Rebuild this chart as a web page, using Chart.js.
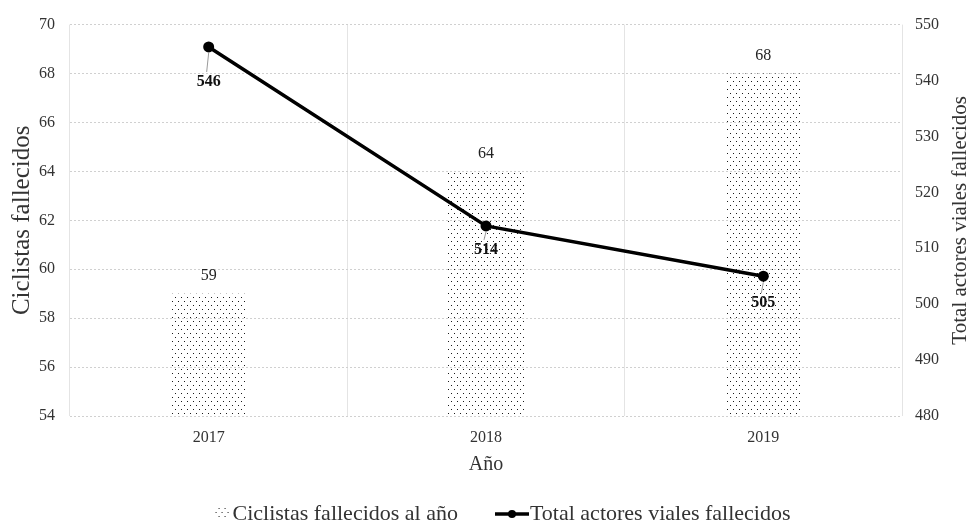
<!DOCTYPE html>
<html>
<head>
<meta charset="utf-8">
<script src="https://cdn.jsdelivr.net/npm/chart.js@4/dist/chart.umd.min.js"></script>
<style>
  html, body { margin: 0; padding: 0; background: #fff; }
  #wrap { width: 971px; height: 525px; }
</style>
</head>
<body>
<div id="wrap"><canvas id="fallecidosChart"></canvas></div>
<script>
const years = ['2017', '2018', '2019'];
const ciclistas = [59, 64, 68];
const totalActores = [546, 514, 505];
const leftTicks = [54, 56, 58, 60, 62, 64, 66, 68, 70];
const rightTicks = [480, 490, 500, 510, 520, 530, 540, 550];

const serif = "'Liberation Serif', 'Times New Roman', serif";
const textColor = '#333';

// dotted fill used for the bars and their legend swatch
function dotTile() {
    const c = document.createElement('canvas');
    c.width = 6;
    c.height = 8;
    const g = c.getContext('2d');
    g.fillStyle = '#1a1a1a';
    g.fillRect(1, 1, 1, 1);
    g.fillRect(4, 5, 1, 1);
    return c;
}
const tile = dotTile();
const dotPattern = document.createElement('canvas').getContext('2d').createPattern(tile, 'repeat');

// legend icons: the canvas is centred on the legend box and its right
// edge lands on the label text, so the drawing sits at the right side
const boxW = 41;
const legendFont = 22;
function iconCanvas() {
    const c = document.createElement('canvas');
    c.width = boxW + legendFont;
    c.height = 14;
    return c;
}
function barIcon() {
    const c = iconCanvas();
    const g = c.getContext('2d');
    g.fillStyle = g.createPattern(tile, 'repeat');
    g.fillRect(c.width - 17, 1, 15, 12);
    return c;
}
function lineIcon() {
    const c = iconCanvas();
    const g = c.getContext('2d');
    g.strokeStyle = '#000';
    g.lineWidth = 3.5;
    g.beginPath();
    g.moveTo(c.width - 35, 7);
    g.lineTo(c.width - 1, 7);
    g.stroke();
    g.fillStyle = '#000';
    g.beginPath();
    g.arc(c.width - 18, 7, 4, 0, Math.PI * 2);
    g.fill();
    return c;
}

const lineLabelDrop = [35, 24, 27];

const valueLabels = {
    id: 'valueLabels',
    afterDatasetsDraw(chart) {
        const ctx = chart.ctx;
        ctx.save();
        ctx.textAlign = 'center';
        ctx.textBaseline = 'middle';

        const bars = chart.getDatasetMeta(0).data;
        ctx.font = '16px ' + serif;
        ctx.fillStyle = '#222';
        bars.forEach((bar, i) => {
            ctx.fillText(String(ciclistas[i]), bar.x, bar.y - 18);
        });

        const pts = chart.getDatasetMeta(1).data;
        ctx.font = 'bold 16px ' + serif;
        pts.forEach((pt, i) => {
            const ly = pt.y + lineLabelDrop[i];
            ctx.strokeStyle = '#9a9a9a';
            ctx.lineWidth = 1;
            ctx.beginPath();
            ctx.moveTo(pt.x, pt.y + 6);
            ctx.lineTo(pt.x - 2, ly - 10);
            ctx.stroke();
            ctx.fillStyle = '#111';
            ctx.fillText(String(totalActores[i]), pt.x, ly);
        });
        ctx.restore();
    },
    afterDraw(chart) {
        // right axis title reads bottom to top
        const ctx = chart.ctx;
        const y1 = chart.scales.y1;
        ctx.save();
        ctx.translate(y1.right - 11, (chart.chartArea.top + chart.chartArea.bottom) / 2);
        ctx.rotate(-Math.PI / 2);
        ctx.font = '21px ' + serif;
        ctx.fillStyle = textColor;
        ctx.textAlign = 'center';
        ctx.textBaseline = 'middle';
        ctx.fillText('Total actores viales fallecidos', 0, 0);
        ctx.restore();
    }
};

const ctx = document.getElementById('fallecidosChart').getContext('2d');
new Chart(ctx, {
    type: 'bar',
    data: {
        labels: years,
        datasets: [{
            type: 'bar',
            label: 'Ciclistas fallecidos al año',
            data: ciclistas,
            backgroundColor: dotPattern,
            borderWidth: 0,
            yAxisID: 'y',
            categoryPercentage: 1,
            barPercentage: 0.275,
            order: 1
        }, {
            type: 'line',
            label: 'Total actores viales fallecidos',
            data: totalActores,
            borderColor: '#000',
            backgroundColor: '#000',
            borderWidth: 3.5,
            pointRadius: 5.5,
            pointBackgroundColor: '#000',
            pointBorderWidth: 0,
            tension: 0,
            yAxisID: 'y1',
            order: 0
        }]
    },
    options: {
        responsive: true,
        maintainAspectRatio: false,
        animation: false,
        layout: { padding: { left: 0, right: 0, top: 12, bottom: -10 } },
        scales: {
            x: {
                afterFit: axis => { axis.height = 67; },
                grid: { color: '#e4e4e4', lineWidth: 1, drawTicks: false, offset: true },
                border: { display: false },
                ticks: { font: { family: serif, size: 16 }, color: textColor, padding: 12 },
                title: {
                    display: true,
                    text: 'Año',
                    font: { family: serif, size: 20 },
                    color: textColor,
                    padding: { top: 2, bottom: 6 }
                }
            },
            y: {
                position: 'left',
                min: 54,
                max: 70,
                afterBuildTicks: axis => { axis.ticks = leftTicks.map(v => ({ value: v })); },
                afterFit: axis => { axis.width = 70; },
                grid: { color: '#d0d0d0', lineWidth: 1, drawTicks: false },
                border: { display: false, dash: [2, 2] },
                ticks: { font: { family: serif, size: 16 }, color: textColor, padding: 15 },
                title: {
                    display: true,
                    text: 'Ciclistas fallecidos',
                    font: { family: serif, size: 25 },
                    color: textColor,
                    padding: { top: 7, bottom: 2 }
                }
            },
            y1: {
                position: 'right',
                min: 480,
                max: 550,
                afterBuildTicks: axis => { axis.ticks = rightTicks.map(v => ({ value: v })); },
                afterFit: axis => { axis.width = 69; },
                grid: { display: false, drawTicks: false },
                border: { display: false },
                ticks: { font: { family: serif, size: 16 }, color: textColor, padding: 13 }
            }
        },
        plugins: {
            tooltip: { enabled: false },
            legend: {
                position: 'bottom',
                labels: {
                    usePointStyle: true,
                    pointStyleWidth: boxW,
                    boxHeight: 14,
                    padding: 20,
                    font: { family: serif, size: legendFont },
                    color: textColor,
                    generateLabels: () => [
                        { text: 'Ciclistas fallecidos al año', pointStyle: barIcon(), fillStyle: 'transparent', strokeStyle: 'transparent', lineWidth: 0, hidden: false, datasetIndex: 0, fontColor: textColor },
                        { text: 'Total actores viales fallecidos', pointStyle: lineIcon(), fillStyle: 'transparent', strokeStyle: 'transparent', lineWidth: 0, hidden: false, datasetIndex: 1, fontColor: textColor }
                    ]
                }
            }
        }
    },
    plugins: [valueLabels]
});
</script>
</body>
</html>
